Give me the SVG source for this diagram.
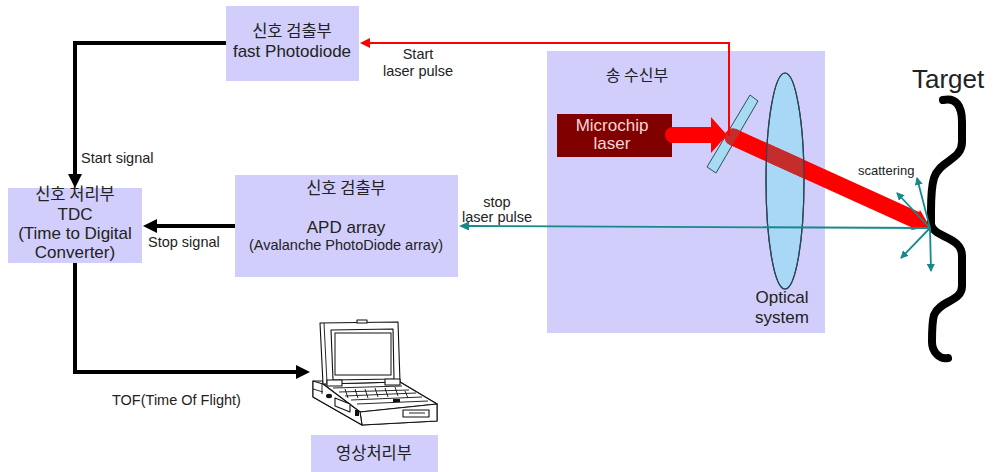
<svg xmlns="http://www.w3.org/2000/svg" width="997" height="472" viewBox="0 0 997 472">
  <defs>
    <style>
      .box{fill:#d1cefb}
      .t{font-family:"Liberation Sans","Noto Sans CJK KR",sans-serif;fill:#222}
      .k{font-family:"Noto Sans CJK KR","Liberation Sans",sans-serif;fill:#222}
      .c{text-anchor:middle}
      .b{font-size:17px}
      .s{font-size:14.5px}
      .blk{stroke:#000;stroke-width:4;fill:none;stroke-linejoin:miter}
      .lap{fill:#fff;stroke:#111;stroke-width:1.1;stroke-linejoin:round}
      .lapl{fill:none;stroke:#111;stroke-width:0.9}
      .sc{stroke:#17898a;stroke-width:1.8;fill:none}
    </style>
    <marker id="ahBlack" markerUnits="userSpaceOnUse" viewBox="0 0 14 14" refX="0" refY="7" markerWidth="14" markerHeight="14" orient="auto">
      <path d="M0,0 L14,7 L0,14 z" fill="#000"/>
    </marker>
    <marker id="ahRed" markerUnits="userSpaceOnUse" viewBox="0 0 10 10" refX="0" refY="5" markerWidth="10" markerHeight="10" orient="auto">
      <path d="M0,0 L10,5 L0,10 z" fill="#f00"/>
    </marker>
    <marker id="ahTeal" markerUnits="userSpaceOnUse" viewBox="0 0 10 9" refX="0" refY="4.5" markerWidth="10" markerHeight="9" orient="auto">
      <path d="M0,0 L10,4.5 L0,9 z" fill="#17898a"/>
    </marker>
    <marker id="ahTealS" markerUnits="userSpaceOnUse" viewBox="0 0 8 8" refX="7" refY="4" markerWidth="8" markerHeight="8" orient="auto">
      <path d="M0,0 L8,4 L0,8 z" fill="#17898a"/>
    </marker>
    <clipPath id="lensClip"><ellipse cx="785" cy="181" rx="19" ry="108"/></clipPath>
    <clipPath id="mirrorClip"><polygon points="750,95 758,101 716,173 707,167"/></clipPath>
  </defs>

  <rect width="997" height="472" fill="#fff"/>

  <!-- transceiver unit -->
  <g id="transceiver">
    <rect class="box" x="547" y="51" width="278" height="282"/>
    <text class="k c" x="637" y="81" font-size="16">송 수신부</text>
  </g>

  <!-- start pulse detector -->
  <g id="fast-photodiode">
    <rect class="box" x="226" y="6" width="133" height="75"/>
    <text class="k c" x="292" y="37" font-size="16.5">신호 검출부</text>
    <text class="t c b" x="292" y="57">fast Photodiode</text>
  </g>

  <!-- TDC -->
  <g id="tdc">
    <rect class="box" x="8" y="188" width="134" height="75"/>
    <text class="k c" x="75" y="200" font-size="16.5">신호 처리부</text>
    <text class="t c b" x="75" y="220">TDC</text>
    <text class="t c b" x="75" y="239">(Time to Digital</text>
    <text class="t c b" x="75" y="258">Converter)</text>
  </g>

  <!-- stop pulse detector -->
  <g id="apd-array">
    <rect class="box" x="235" y="175" width="223" height="102"/>
    <text class="k c" x="346" y="194" font-size="16.5">신호 검출부</text>
    <text class="t c b" x="346" y="233">APD array</text>
    <text class="t c s" x="346" y="250">(Avalanche PhotoDiode array)</text>
  </g>

  <!-- image processing -->
  <g id="image-processing">
    <rect class="box" x="311" y="435" width="127" height="37"/>
    <text class="k c" x="374" y="459" font-size="16.5">영상처리부</text>
  </g>

  <!-- laptop -->
  <g id="laptop">
    <!-- base -->
    <polygon class="lap" points="313,381 323,381 323,384 400,382 437,404 437,421 362,425 313,397"/>
    <polygon class="lap" points="323,384 400,382 437,404 360,412"/>
    <polygon class="lap" points="360,412 437,404 437,421 362,425"/>
    <polygon class="lap" points="313,381 323,384 360,412 362,425 313,397"/>
    <path class="lapl" d="M313,389 L323,392 M322,384 L322,394"/>
    <!-- keyboard rows -->
    <path class="lapl" d="M333,388 L402,386 M339,392 L409,390 M345,396 L416,393 M351,400 L422,397 M357,404 L428,401"/>
    <path class="lapl" d="M345,389 l3,9 M355,389 l3,9 M365,389 l3,9 M375,388 l3,9 M385,388 l3,9 M395,387 l3,9 M405,391 l3,7"/>
    <rect x="393" y="399" width="7" height="3" fill="#111"/>
    <!-- side ports -->
    <polygon class="lap" points="335,398 350,404 350,412 335,406" fill="#333"/>
    <ellipse cx="329" cy="396" rx="3" ry="2.2" fill="#111"/>
    <rect x="355" y="410" width="4" height="6" fill="#111"/>
    <!-- floppy slot -->
    <rect class="lap" x="403" y="410" width="26" height="7"/>
    <path class="lapl" d="M409,413 H425"/>
    <!-- lid -->
    <polygon class="lap" points="320,323 398,322 400,382 323,384"/>
    <path class="lapl" d="M324,323 L327,383"/>
    <rect class="lap" x="357" y="320" width="10" height="3"/>
    <polygon class="lap" points="331,330 393,329 394,379 333,380"/>
    <rect x="335" y="333" width="56" height="42" fill="#fff" stroke="#111" stroke-width="1"/>
    <!-- hinges -->
    <rect class="lap" x="327" y="380" width="15" height="6"/>
    <rect class="lap" x="385" y="379" width="15" height="6"/>
  </g>

  <!-- optics -->
  <g id="microchip-laser">
    <rect x="557" y="114" width="115" height="43" fill="#800000"/>
    <text class="t c b" x="612" y="131" style="fill:#f7d6d6">Microchip</text>
    <text class="t c b" x="612" y="149" style="fill:#f7d6d6">laser</text>
  </g>

  <g id="beam-splitter">
    <polygon points="750,95 758,101 716,173 707,167" fill="#a6dbf2" stroke="#2d4d5d" stroke-width="1"/>
  </g>

  <g id="optical-system">
    <ellipse cx="785" cy="181" rx="19" ry="108" fill="#a9d8f6" stroke="#2a4656" stroke-width="1.2"/>
    <text class="t c b" x="782" y="303">Optical</text>
    <text class="t c b" x="782" y="323">system</text>
  </g>

  <!-- target -->
  <g id="target">
    <text class="t" x="912" y="88" font-size="26">Target</text>
    <path d="M943,100 C956,97 962,106 962,122 L962,142 C962,160 940,160 934,178 C931,188 931,200 931,212 L931,224 C933,238 962,236 962,256 L962,286 C962,302 940,300 934,315 C932,322 932,332 932,342 C932,352 940,360 948,358" fill="none" stroke="#000" stroke-width="8" stroke-linecap="round" stroke-linejoin="round"/>
    <text class="t" x="858" y="175" font-size="13">scattering</text>
  </g>

  <!-- connectors -->
  <g id="connectors">
    <!-- laser output and beam toward the target -->
    <polygon points="673,127 711,127 711,117 727,135 711,153 711,143 673,143" fill="#f00"/>
    <circle cx="673" cy="135" r="8" fill="#f00"/>
    <line x1="733" y1="137" x2="916" y2="220" stroke="#f00" stroke-width="17"/>
    <circle cx="733" cy="137" r="8.5" fill="#f00"/>
    <g clip-path="url(#lensClip)">
      <line x1="733" y1="137" x2="916" y2="220" stroke="#c52d2d" stroke-width="17"/>
    </g>
    <g clip-path="url(#mirrorClip)">
      <circle cx="733" cy="137" r="8.5" fill="#c52d2d"/>
      <line x1="733" y1="137" x2="760" y2="149" stroke="#c52d2d" stroke-width="17"/>
    </g>
    <ellipse cx="785" cy="181" rx="19" ry="108" fill="none" stroke="#2a4656" stroke-width="1.2"/>
    <polygon points="930,227 911,230 920,210" fill="#f00"/>

    <!-- start laser pulse -->
    <path d="M729,136 V43 H370" fill="none" stroke="#f00" stroke-width="2" marker-end="url(#ahRed)"/>
    <text class="t c s" x="418" y="59">Start</text>
    <text class="t c s" x="418" y="76">laser pulse</text>

    <!-- stop laser pulse -->
    <path d="M930,228 L469,226" class="sc" stroke-width="2" marker-end="url(#ahTeal)"/>
    <text class="t c s" x="497" y="207">stop</text>
    <text class="t c s" x="497" y="222">laser pulse</text>

    <!-- scattering -->
    <path d="M930,228 L917,178" class="sc" marker-end="url(#ahTealS)"/>
    <path d="M930,228 L897,193" class="sc" marker-end="url(#ahTealS)"/>
    <path d="M930,228 L901,258" class="sc" marker-end="url(#ahTealS)"/>
    <path d="M930,228 L931,271" class="sc" marker-end="url(#ahTealS)"/>

    <!-- start signal -->
    <path d="M226,43 H75 V174" class="blk" marker-end="url(#ahBlack)"/>
    <text class="t s" x="81" y="163">Start signal</text>

    <!-- stop signal -->
    <path d="M235,226 H157" class="blk" marker-end="url(#ahBlack)"/>
    <text class="t s" x="148" y="247">Stop signal</text>

    <!-- time of flight -->
    <path d="M75,263 V372 H296" class="blk" marker-end="url(#ahBlack)"/>
    <text class="t s" x="112" y="405">TOF(Time Of Flight)</text>
  </g>
</svg>
